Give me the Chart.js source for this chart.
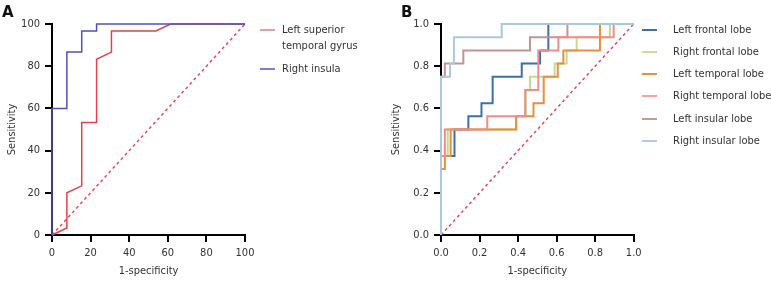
<!DOCTYPE html>
<html>
<head>
<meta charset="utf-8">
<script src="https://cdn.jsdelivr.net/npm/chart.js@4.4.0/dist/chart.umd.min.js"></script>
<style>
    body { margin: 0; background: #fff; }
    #wrap { position: relative; width: 771px; height: 283px; overflow: hidden; font-family: 'DejaVu Sans Condensed', 'DejaVu Sans', sans-serif; }
    .panel { position: absolute; top: 0; height: 283px; }
    .tag { position: absolute; font: bold 15px 'DejaVu Sans', sans-serif; color: #111; }
    .legend { position: absolute; font-size: 11px; color: #333; }
    .legend .row { position: absolute; white-space: nowrap; line-height: 16px; }
    .legend .ln { position: absolute; width: 15px; height: 2px; top: 7px; }
    .legend .tx { position: absolute; left: 0; }
</style>
</head>
<body>
<div id="wrap">
    <div class="panel" style="left:0;width:385px"><canvas id="chartA" width="385" height="283"></canvas></div>
    <div class="panel" style="left:385px;width:386px"><canvas id="chartB" width="386" height="283"></canvas></div>
    <div class="tag" style="left:2px;top:3px">A</div>
    <div class="tag" style="left:401px;top:3px">B</div>
    <div class="legend" id="legendA" style="left:260px;top:0"></div>
    <div class="legend" id="legendB" style="left:642px;top:0"></div>
</div>
<script>
// panel A - 1-specificity (%) / sensitivity (%)
const fprSTG = [0, 7.7, 7.7, 15.4, 15.4, 23.1, 23.1, 30.8, 30.8, 53.8, 61.5, 100];
const tprSTG = [0, 3.3, 20, 23.3, 53.3, 53.3, 83.3, 86.7, 96.7, 96.7, 100, 100];
const fprInsula = [0, 0, 7.7, 7.7, 15.4, 15.4, 23.1, 23.1, 100];
const tprInsula = [0, 60, 60, 86.7, 86.7, 96.7, 96.7, 100, 100];
const ticksA = [0, 20, 40, 60, 80, 100];

// panel B - 1-specificity / sensitivity
const fprLF = [0, 0, 0.07, 0.07, 0.142, 0.142, 0.21, 0.21, 0.268, 0.268, 0.419, 0.419, 0.514, 0.514, 0.557, 0.557, 1];
const tprLF = [0, 0.375, 0.375, 0.5, 0.5, 0.5625, 0.5625, 0.625, 0.625, 0.75, 0.75, 0.8125, 0.8125, 0.875, 0.875, 1, 1];
const fprRF = [0, 0, 0.035, 0.035, 0.39, 0.39, 0.44, 0.44, 0.462, 0.462, 0.59, 0.59, 0.652, 0.652, 0.704, 0.704, 0.877, 0.877, 1];
const tprRF = [0, 0.375, 0.375, 0.5, 0.5, 0.5625, 0.5625, 0.6875, 0.6875, 0.75, 0.75, 0.8125, 0.8125, 0.875, 0.875, 0.9375, 0.9375, 1, 1];
const fprLT = [0, 0, 0.02, 0.02, 0.05, 0.05, 0.39, 0.39, 0.48, 0.48, 0.533, 0.533, 0.606, 0.606, 0.635, 0.635, 0.825, 0.825, 1];
const tprLT = [0, 0.3125, 0.3125, 0.375, 0.375, 0.5, 0.5, 0.5625, 0.5625, 0.625, 0.625, 0.75, 0.75, 0.8125, 0.8125, 0.875, 0.875, 1, 1];
const fprRT = [0, 0, 0.02, 0.02, 0.24, 0.24, 0.437, 0.437, 0.505, 0.505, 0.609, 0.609, 0.896, 0.896, 1];
const tprRT = [0, 0.375, 0.375, 0.5, 0.5, 0.5625, 0.5625, 0.6875, 0.6875, 0.875, 0.875, 0.9375, 0.9375, 1, 1];
const fprLI = [0, 0, 0.02, 0.02, 0.116, 0.116, 0.462, 0.462, 0.656, 0.656, 1];
const tprLI = [0, 0.75, 0.75, 0.8125, 0.8125, 0.875, 0.875, 0.9375, 0.9375, 1, 1];
const fprRI = [0, 0, 0.047, 0.047, 0.067, 0.067, 0.315, 0.315, 1];
const tprRI = [0, 0.75, 0.75, 0.8125, 0.8125, 0.9375, 0.9375, 1, 1];
const ticksB = [0, 0.2, 0.4, 0.6, 0.8, 1.0];

const refLine = [0, 1];

Chart.defaults.font.family = "'DejaVu Sans Condensed', 'DejaVu Sans', sans-serif";
Chart.defaults.font.size = 11;
Chart.defaults.color = '#333';

function pts(xs, ys) {
    return xs.map((x, i) => ({x: x, y: ys[i]}));
}

function curve(label, xs, ys, color, width, order) {
    return {
        label: label,
        data: pts(xs, ys),
        borderColor: color,
        backgroundColor: color,
        borderWidth: width,
        pointRadius: 0,
        tension: 0,
        fill: false,
        clip: false,
        order: order
    };
}

function diag(max) {
    return {
        label: 'ref',
        data: pts(refLine.map(v => v * max), refLine.map(v => v * max)),
        borderColor: '#e8485a',
        borderWidth: 1.5,
        borderDash: [3, 3],
        pointRadius: 0,
        fill: false,
        clip: false,
        order: 20
    };
}

function makeScale(axis, max, ticks, fmt, box, title, titlePad) {
    return {
        type: 'linear',
        min: 0,
        max: max,
        afterBuildTicks: s => { s.ticks = ticks.map(v => ({value: v})); },
        afterFit: s => {
            if (axis == 'x') s.height = box; else s.width = box;
        },
        grid: { display: true, drawOnChartArea: false, drawTicks: true, tickLength: 7, color: '#000', lineWidth: 2 },
        border: { display: true, color: '#000', width: 2 },
        ticks: { padding: 5, color: '#333', callback: fmt, maxRotation: 0, autoSkip: false },
        title: { display: true, text: title, color: '#333', font: {size: 11}, padding: titlePad }
    };
}

function makeChart(id, datasets, max, ticks, fmt, left, right, width, yTitlePad) {
    return new Chart(document.getElementById(id), {
        type: 'line',
        data: { datasets: datasets },
        options: {
            responsive: false,
            animation: false,
            layout: { padding: { left: 0, top: 24, right: width - right, bottom: 0 } },
            plugins: { legend: { display: false }, tooltip: { enabled: false } },
            scales: {
                x: makeScale('x', max, ticks, fmt, 283 - 235, '1-specificity', {top: 0, bottom: 5}),
                y: makeScale('y', max, ticks, fmt, left, 'Sensitivity', {top: yTitlePad, bottom: 0})
            }
        }
    });
}

const dsA = [
    curve('Right insula', fprInsula, tprInsula, '#5050c4', 1.5, 1),
    curve('Left superior\ntemporal gyrus', fprSTG, tprSTG, '#e4424c', 1.5, 2),
    diag(100)
];
makeChart('chartA', dsA, 100, ticksA, v => String(v), 52, 245, 385, 6);

const dsB = [
    curve('Right insular lobe', fprRI, tprRI, '#a9c8e6', 2, 1),
    curve('Right temporal lobe', fprRT, tprRT, '#f28c8a', 2, 2),
    curve('Left temporal lobe', fprLT, tprLT, '#ea8f3e', 2, 3),
    curve('Left insular lobe', fprLI, tprLI, '#c49394', 2, 4),
    curve('Left frontal lobe', fprLF, tprLF, '#3d6fae', 2, 5),
    curve('Right frontal lobe', fprRF, tprRF, '#c9da8c', 2, 6),
    diag(1)
];
makeChart('chartB', dsB, 1, ticksB, v => v.toFixed(1), 56, 248.7, 386, 5);

// legends
function legend(el, items, rows) {
    let box = document.getElementById(el);
    items.forEach((it, i) => {
        let row = document.createElement('div');
        row.classList.add('row');
        row.style.top = (rows[i] - 8) + 'px';
        let ln = document.createElement('div');
        ln.classList.add('ln');
        ln.style.background = it.color;
        ln.style.height = it.h + 'px';
        row.appendChild(ln);
        let tx = document.createElement('div');
        tx.classList.add('tx');
        tx.style.left = it.indent + 'px';
        tx.innerHTML = it.text;
        row.appendChild(tx);
        box.appendChild(row);
    });
}

legend('legendA', [
    {text: 'Left superior<br>temporal gyrus', color: '#eaa0a2', h: 1.5, indent: 22},
    {text: 'Right insula', color: '#7c7cd6', h: 1.5, indent: 22}
], [30, 69]);

legend('legendB', [
    {text: 'Left frontal lobe', color: '#3d6fae', h: 2, indent: 31},
    {text: 'Right frontal lobe', color: '#cfdd9c', h: 2, indent: 31},
    {text: 'Left temporal lobe', color: '#ea8f3e', h: 2, indent: 31},
    {text: 'Right temporal lobe', color: '#f4a4a2', h: 2, indent: 31},
    {text: 'Left insular lobe', color: '#c49a9b', h: 2, indent: 31},
    {text: 'Right insular lobe', color: '#aecbe8', h: 2, indent: 31}
], [30, 52, 74, 96, 118.5, 141]);
</script>
</body>
</html>
